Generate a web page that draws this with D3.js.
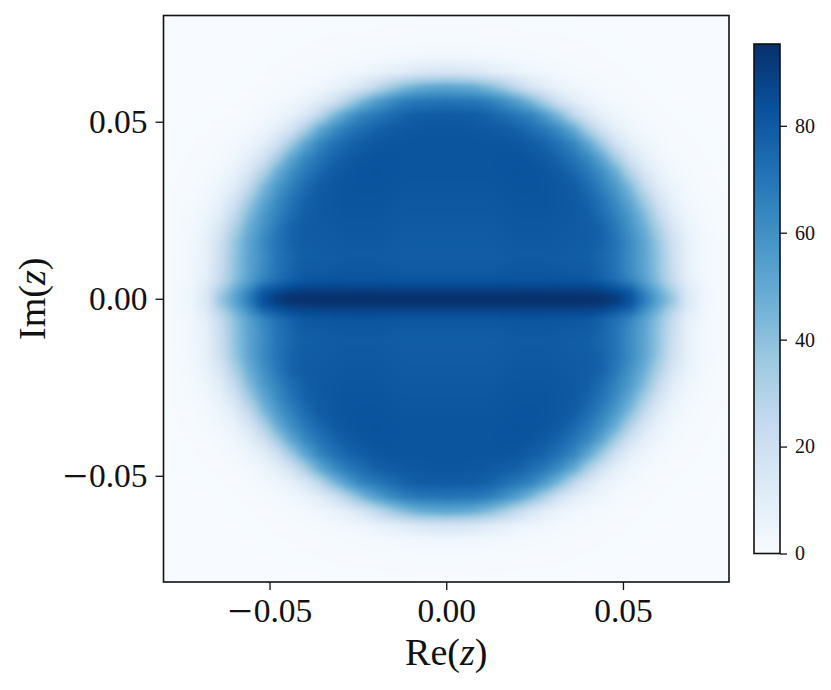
<!DOCTYPE html>
<html>
<head>
<meta charset="utf-8">
<script src="https://cdn.jsdelivr.net/npm/d3@7/dist/d3.min.js"></script>
<style>
html,body{margin:0;padding:0;background:#fff;}
svg{display:block;}
text{font-family:"Liberation Serif","Times New Roman",serif;fill:#111;}
</style>
</head>
<body>
<svg id="chart" width="831" height="690"></svg>
<script>
// Grid of the density. The plot is mirror-symmetric,
// so one quadrant is stored: |Re(z)| across, |Im(z)| down.
const reGrid = [0,.004,.008,.012,.016,.02,.024,.028,.032,.036,.04,.044,.048,.052,.056,.06,.064,.068,.072,.076,.08];
const imGrid = [0,.001,.002,.003,.004,.005,.006,.008,.012,.016,.02,.024,.028,.032,.036,.04,.044,.048,.052,.056,.06,.064,.068,.072,.076,.08];
const density = [
[95,95,95,95,95,95,95,95,95,95,94.5,94,91,82,67,51,36,14,5,1.5,.6],
[94,94,94,94,94,94,94,94,94,94,93.7,93,89.5,81.5,66.2,50.4,35,13.5,5,1.6,.7],
[91.5,91.5,91.5,91.5,91.5,91.6,91.6,91.6,91.5,91.5,91.2,90,86,79.5,63.8,48.6,33,13,4.8,1.6,.7],
[88.5,88.5,88.5,88.5,88.6,88.8,88.8,88.8,88.6,88.5,88,86.5,82,75.5,60.8,46,30,12,4.5,1.5,.7],
[85.8,85.8,85.8,85.8,86,86.3,86.3,86.3,86,85.8,85.3,83,78.2,71.3,58,43.5,27,11,4.2,1.5,.7],
[83,83,83,83,83.4,83.8,83.8,83.8,83.4,83,82.5,79.5,74.5,66.7,55,41,25,10,3.8,1.4,.7],
[81.2,81.2,81.2,81.2,81.6,82,82,82,81.6,81.2,80.7,77,71.8,63.8,53,39.5,23.5,9,3.5,1.4,.7],
[80.2,80.2,80.2,80.2,80.6,81,81,81,80.6,80.2,79.7,76,70.3,62,51.7,38.6,22,8,3.3,1.4,.7],
[79,79,79,79,79.5,80,80,80,79.5,79,78.5,75,69.9,61,51.3,38,21,7.6,3.2,1.4,.7],
[79.5,79.5,79.5,79.5,80,80.5,80.5,80.5,80,79.5,79,76.5,70.4,62,51.1,36.7,19.7,7.7,3.1,1.2,.6],
[80,80,80,80,80.5,81,81,81,80.5,80,79.5,76.5,68.4,58.9,47.4,31.1,15,6.1,2.5,1,.5],
[80.5,80.5,80.5,80.5,81,81.5,81.5,81.5,81,80.5,78.5,73,64.9,55.3,41.9,24.2,10.2,4.4,1.9,.8,.4],
[81,81,81,81,81.5,82,82,82,81,80,76.5,70,60.9,49.5,33.6,17.2,7,3,1.3,.6,.3],
[81.5,81.5,81.5,81.5,82,82.5,82.5,82,81,79,73.2,65.3,55.7,41.4,23.6,10.3,4.7,2.1,.8,.4,.3],
[82,82,82,82,82.5,82.8,82.5,81.5,79.5,74.9,68.5,60,47.1,29,14.4,6.3,2.8,1.3,.6,.3,.3],
[82,82,82,82,82.5,82.5,81.5,79.5,75.7,69.9,62.4,49.9,32.8,17.2,8,3.7,1.6,.7,.4,.3,.3],
[82,82,82,82,81.7,81,78.6,75.7,70.5,63.2,50.4,34.2,18,8.5,4.3,2.1,.9,.5,.3,.3,.2],
[81.5,81.4,81,80.2,79.2,77,72.8,68.2,60.5,48.8,31.9,17,8.5,4.2,2.2,1,.5,.3,.3,.2,.2],
[79.5,79.2,78.7,76.5,72.8,68.5,64.3,54.4,41.9,25.9,13.8,7.1,3.9,2.2,1.1,.5,.3,.3,.2,.2,.2],
[70,69.4,68.6,65.7,60.2,53,42.5,29.8,17.2,9.6,5.6,3.2,1.8,1,.5,.3,.2,.2,.2,.2,.2],
[50,49,46.7,41.1,33.3,23.9,14.8,9.4,5.7,3.5,2.3,1.5,.9,.5,.3,.3,.2,.2,.2,.2,.2],
[16.4,15.5,14,11,8.8,6,4.3,3,2.2,1.5,1,.7,.5,.3,.3,.2,.2,.2,.2,.2,.2],
[4,3.9,3.4,2.9,2.4,1.9,1.5,1.2,.9,.7,.5,.4,.3,.3,.2,.2,.2,.2,.2,.2,.2],
[1.2,1.2,1.1,1,.9,.8,.7,.6,.5,.4,.35,.3,.3,.2,.2,.2,.2,.2,.2,.2,.1],
[.5,.5,.5,.4,.4,.4,.3,.3,.3,.3,.2,.2,.2,.2,.2,.1,.1,.1,.1,.1,.1],
[.3,.3,.3,.3,.3,.2,.2,.2,.2,.2,.2,.1,.1,.1,.1,.1,.1,.1,.1,.1,.1]
];
const blues = ["#f7fbff","#deebf7","#c6dbef","#9ecae1","#6baed6","#4292c6","#2171b5","#08519c","#08306b"];
const vMax = 95.3;
const xTicks = [-0.05, 0, 0.05];
const yTicks = [-0.05, 0, 0.05];
const colorTicks = [0, 20, 40, 60, 80];
const extent = [-0.08, 0.08];

const plot = {left:163.5, right:729, top:15.5, bottom:582};
const bar = {left:754, right:780, top:44, bottom:553.5};

const svg = d3.select("#chart");
const x = d3.scaleLinear().domain(extent).range([plot.left, plot.right]);
const y = d3.scaleLinear().domain(extent).range([plot.bottom, plot.top]);
const c = d3.scaleLinear().domain([0, vMax]).range([bar.bottom, bar.top]);
const color = d3.scaleLinear()
  .domain(blues.map((_, i) => i / (blues.length - 1) * vMax))
  .range(blues).clamp(true);

// Raster: look up the grid cell for each pixel.
const W = Math.round(plot.right - plot.left), H = Math.round(plot.bottom - plot.top);
const canvas = document.createElement("canvas");
canvas.width = W; canvas.height = H;
const ctx = canvas.getContext("2d");
const img = ctx.createImageData(W, H);
const cellOf = (grid, v) => {
  const i = Math.min(d3.bisectRight(grid, v) - 1, grid.length - 2);
  return [i, (v - grid[i]) / (grid[i + 1] - grid[i])];
};
const xScaleImg = d3.scaleLinear().domain([0, W]).range(extent);
const yScaleImg = d3.scaleLinear().domain([0, H]).range([extent[1], extent[0]]);
for (let py = 0; py < H; py++) {
  const [j, fj] = cellOf(imGrid, Math.min(Math.abs(yScaleImg(py + .5)), .08));
  for (let px = 0; px < W; px++) {
    const [i, fi] = cellOf(reGrid, Math.min(Math.abs(xScaleImg(px + .5)), .08));
    const v = d3.interpolateNumber(
      d3.interpolateNumber(density[j][i], density[j][i + 1])(fi),
      d3.interpolateNumber(density[j + 1][i], density[j + 1][i + 1])(fi))(fj);
    const col = d3.rgb(color(v));
    const k = (py * W + px) * 4;
    img.data[k] = col.r; img.data[k + 1] = col.g; img.data[k + 2] = col.b; img.data[k + 3] = 255;
  }
}
ctx.putImageData(img, 0, 0);

svg.append("image")
  .attr("x", plot.left).attr("y", plot.top)
  .attr("width", W).attr("height", H)
  .attr("href", canvas.toDataURL());

const tickSize = 33.5;
const styleAxis = (g, size) => {
  g.select(".domain").remove();
  g.selectAll(".tick line").attr("stroke", "#111").attr("stroke-width", 1.3);
  g.selectAll(".tick text").attr("font-size", size)
    .style("font-family", '"Liberation Serif",serif').attr("fill", "#111");
};
// The reference sets a long minus sign: draw it as a larger glyph, lowered to the digits' centre.
const longMinus = g => g.selectAll(".tick text").each(function () {
  const t = d3.select(this), s = t.text();
  if (s[0] !== "\u2212") return;
  const base = parseFloat(t.attr("dy")) * tickSize;
  t.attr("dy", null).text("");
  t.append("tspan").attr("font-size", 44).attr("dy", base + 4).text("\u2212");
  t.append("tspan").attr("dy", -4).attr("dx", 1).text(s.slice(1));
});

svg.append("g")
  .attr("transform", `translate(0,${plot.bottom})`)
  .call(d3.axisBottom(x).tickValues(xTicks).tickFormat(d3.format(".2f")).tickSize(8).tickPadding(8))
  .call(g => styleAxis(g, tickSize)).call(longMinus);
svg.append("g")
  .attr("transform", `translate(${plot.left},0)`)
  .call(d3.axisLeft(y).tickValues(yTicks).tickFormat(d3.format(".2f")).tickSize(8).tickPadding(8))
  .call(g => styleAxis(g, tickSize)).call(longMinus);

svg.append("rect")
  .attr("x", plot.left).attr("y", plot.top)
  .attr("width", plot.right - plot.left).attr("height", plot.bottom - plot.top)
  .attr("fill", "none").attr("stroke", "#111").attr("stroke-width", 1.6);

// Axis titles
const xLabel = svg.append("text").attr("text-anchor", "middle")
  .attr("x", x(0)).attr("y", 665).attr("font-size", 38);
xLabel.append("tspan").text("Re(");
xLabel.append("tspan").attr("font-style", "italic").text("z");
xLabel.append("tspan").text(")");

const yLabel = svg.append("text").attr("text-anchor", "middle")
  .attr("transform", `translate(45,${y(0)}) rotate(-90)`).attr("font-size", 38);
yLabel.append("tspan").text("Im(");
yLabel.append("tspan").attr("font-style", "italic").text("z");
yLabel.append("tspan").text(")");

// Colour bar
const grad = svg.append("defs").append("linearGradient")
  .attr("id", "bluesGrad").attr("x1", 0).attr("x2", 0).attr("y1", 1).attr("y2", 0);
grad.selectAll("stop").data(blues).join("stop")
  .attr("offset", (_, i) => i / (blues.length - 1))
  .attr("stop-color", d => d);
svg.append("rect")
  .attr("x", bar.left).attr("y", bar.top)
  .attr("width", bar.right - bar.left).attr("height", bar.bottom - bar.top)
  .attr("fill", "url(#bluesGrad)").attr("stroke", "#111").attr("stroke-width", 1.6);
svg.append("g")
  .attr("transform", `translate(${bar.right},0)`)
  .call(d3.axisRight(c).tickValues(colorTicks).tickFormat(d3.format("d")).tickSize(7).tickPadding(8))
  .call(g => styleAxis(g, 20));
</script>
</body>
</html>
